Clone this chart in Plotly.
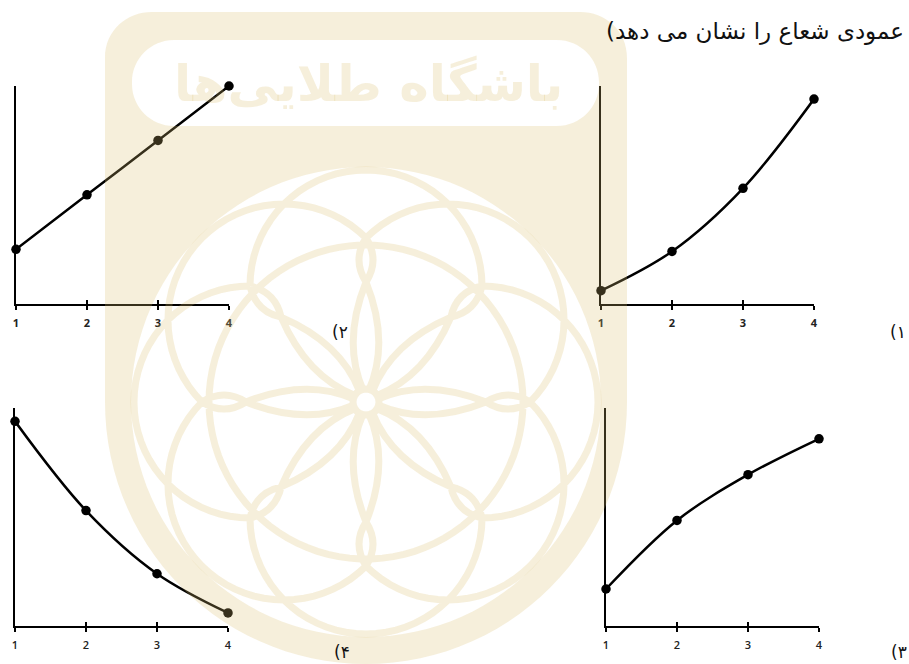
import numpy as np
import plotly.graph_objects as go

W, H = 909, 664

x_vals = [1, 2, 3, 4]
tick_text = ["1", "2", "3", "4"]

# curve heights, percent of the y axis
vals_top_left = [25, 50, 75, 100]
vals_top_right = [6, 24, 53, 94]
vals_bottom_left = [94, 53, 24, 6]
vals_bottom_right = [17, 48.5, 69.5, 86]

title_text = "عمودی شعاع را نشان می دهد)\u200f"
logo_text = "باشگاه طلایی\u200cها"

option_labels = ["\u200e(۲", "\u200e(۱", "\u200e(۴", "\u200e(۳"]

# left px, right px, top px, bottom px of each panel
panels = [
    (vals_top_left, 16, 229, 86, 303.7, 700),
    (vals_top_right, 601, 814, 86, 303.7, 700),
    (vals_bottom_left, 15, 228, 408.3, 626, 600),
    (vals_bottom_right, 606, 819, 408.3, 626, 600),
]

BLACK = "#000000"
TAN = "rgba(220,190,110,0.25)"


def px(x, y):
    return f"{x / W:.5f},{1 - y / H:.5f}"


def poly(points, close=False):
    s = "M" + " L".join(px(x, y) for x, y in points)
    return s + (" Z" if close else "")


# watermark logo
cx, cy = 366, 402
R = 116


def rounded_box(x0, y0, x1, y1, r):
    k = 0.45 * r
    return (
        f"M{px(x0 + r, y0)} L{px(x1 - r, y0)} C{px(x1 - k, y0)} {px(x1, y0 + k)} {px(x1, y0 + r)} "
        f"L{px(x1, y1 - r)} C{px(x1, y1 - k)} {px(x1 - k, y1)} {px(x1 - r, y1)} "
        f"L{px(x0 + r, y1)} C{px(x0 + k, y1)} {px(x0, y1 - k)} {px(x0, y1 - r)} "
        f"L{px(x0, y0 + r)} C{px(x0, y0 + k)} {px(x0 + k, y0)} {px(x0 + r, y0)} Z"
    )


# shield outline, straight sides then a round bottom
shield = [(105, 58)]
for a in np.radians(np.arange(180, -1, -3)):
    shield.append((cx + 261 * np.cos(a), cy + 262 * np.sin(a)))
shield.append((627, 58))
shield_path = poly(shield) + (
    f" C{px(627, 30)} {px(605, 12)} {px(580, 12)} L{px(152, 12)} C{px(127, 12)} {px(105, 30)} {px(105, 58)} Z"
)
disk = [(cx + 235 * np.cos(a), cy + 235 * np.sin(a)) for a in np.radians(np.arange(0, 360, 3))]
fill_path = shield_path + " " + rounded_box(132, 40, 599, 126, 42) + " " + poly(disk, True)

# eight half circles, eight twisted petals and the rings, all in one path
pieces = []
for k in range(8):
    th = np.radians(45 * k)
    ux, uy = np.cos(th), np.sin(th)
    vx, vy = -uy, ux
    ccx, ccy = cx + R * ux, cy + R * uy
    arc = []
    for a in np.radians(np.arange(-90, 91, 5)):
        arc.append((ccx + R * (np.cos(a) * ux + np.sin(a) * vx), ccy + R * (np.cos(a) * uy + np.sin(a) * vy)))
    pieces.append(poly(arc))
    for side in (1, -1):
        def pt(u, v):
            return px(cx + u * ux + side * v * vx, cy + u * uy + side * v * vy)
        pieces.append(f"M{pt(12, 3)} Q{pt(60, 24)} {pt(120, 0)} Q{pt(142, -14)} {pt(164, 0)}")
ring = [(cx + 13 * np.cos(a), cy + 13 * np.sin(a)) for a in np.radians(np.arange(0, 360, 15))]
pieces.append(poly(ring, True))
big_ring = [(cx + 157 * np.cos(a), cy + 157 * np.sin(a)) for a in np.radians(np.arange(0, 360, 4))]
pieces.append(poly(big_ring, True))
stroke_path = " ".join(pieces)

fig = go.Figure()
layout = {}

for i, (vals, x0, x1, y0, y1, weight) in enumerate(panels):
    n = i + 1
    over = i + 5
    fig.add_trace(go.Scatter(
        x=x_vals, y=vals, xaxis=f"x{n}", yaxis=f"y{n}",
        mode="lines+markers", cliponaxis=False, showlegend=False,
        line=dict(color=BLACK, width=2.5, shape="spline", smoothing=1),
        marker=dict(color=BLACK, size=9.5),
    ))
    # same data on an overlaying axis, only to get the upper half of the ticks
    fig.add_trace(go.Scatter(
        x=x_vals, y=vals, xaxis=f"x{over}", yaxis=f"y{n}",
        mode="none", cliponaxis=False, showlegend=False,
    ))
    dom_x = [x0 / W, x1 / W]
    layout[f"xaxis{n}"] = dict(
        domain=dom_x, range=[1, 4], anchor=f"y{n}", tickmode="array",
        tickvals=x_vals, ticktext=tick_text, ticks="outside", ticklen=4, tickwidth=1.5,
        tickcolor=BLACK, showline=True, linecolor=BLACK, linewidth=2, showgrid=False,
        zeroline=False, tickangle=0, automargin=False, ticklabelstandoff=4,
        tickfont=dict(family="Open Sans", size=11, color="#222222", weight=weight),
    )
    layout[f"xaxis{over}"] = dict(
        domain=dom_x, range=[1, 4], anchor=f"y{n}", overlaying=f"x{n}", side="bottom",
        tickmode="array", tickvals=x_vals, ticks="inside", ticklen=4, tickwidth=1.5,
        tickcolor=BLACK, showticklabels=False, showgrid=False, zeroline=False, showline=False,
        automargin=False,
    )
    layout[f"yaxis{n}"] = dict(
        domain=[1 - y1 / H, 1 - y0 / H], range=[0, 100], anchor=f"x{n}",
        showline=True, linecolor=BLACK, linewidth=2, showgrid=False, zeroline=False,
        showticklabels=False, ticks="", automargin=False,
    )

label_pos = [(330, 332), (888, 332), (332, 652), (889, 652)]
annotations = [
    dict(text=t, x=x / W, y=1 - y / H, xref="paper", yref="paper", showarrow=False,
         xanchor="left", yanchor="middle", font=dict(family="DejaVu Sans", size=17, color="#111111"))
    for t, (x, y) in zip(option_labels, label_pos)
]
annotations.append(dict(
    text=title_text, x=906 / W, y=1 - 31 / H, xref="paper", yref="paper", showarrow=False,
    xanchor="right", yanchor="middle", font=dict(family="DejaVu Sans", size=23, color="#111111"),
))
annotations.append(dict(
    text=logo_text, x=368 / W, y=1 - 84 / H, xref="paper", yref="paper", showarrow=False,
    xanchor="center", yanchor="middle",
    font=dict(family="DejaVu Sans", size=50, color=TAN, weight=700),
))

shapes = [
    dict(type="path", path=fill_path, xref="paper", yref="paper", layer="above",
         fillcolor=TAN, fillrule="evenodd", line=dict(width=0)),
    dict(type="path", path=stroke_path, xref="paper", yref="paper", layer="above",
         line=dict(color=TAN, width=7)),
]

fig.update_layout(
    width=W, height=H, autosize=False, margin=dict(l=0, r=0, t=0, b=0),
    paper_bgcolor="white", plot_bgcolor="rgba(0,0,0,0)", showlegend=False,
    shapes=shapes, annotations=annotations, **layout,
)

fig.write_html(
    "out.html",
    config={"displayModeBar": False},
    post_script="document.body.style.margin='0';document.body.style.overflow='hidden';",
)
